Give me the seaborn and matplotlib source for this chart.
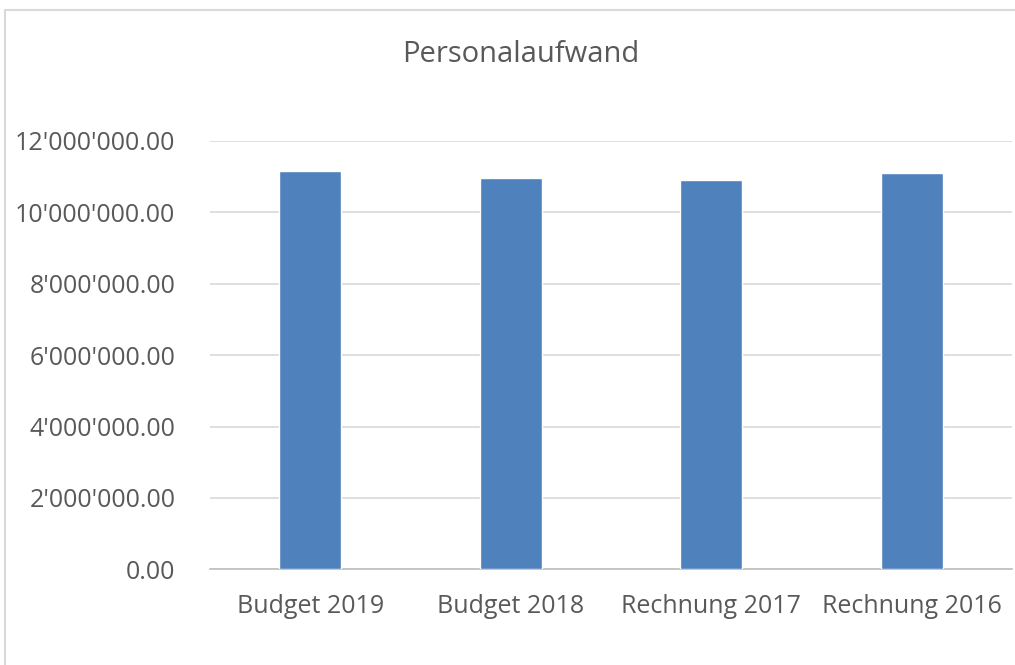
import matplotlib
matplotlib.use("Agg")
import matplotlib.pyplot as plt
import matplotlib.ticker as mticker
from matplotlib.patches import Rectangle
import seaborn as sns
import pandas as pd

categories = ["Budget 2019", "Budget 2018", "Rechnung 2017", "Rechnung 2016"]
values = [11160000, 10950000, 10900000, 11110000]
title = "Personalaufwand"
yticks = [0, 2000000, 4000000, 6000000, 8000000, 10000000, 12000000]

sns.set_theme(style="white")
plt.rcParams["font.family"] = ["Open Sans", "DejaVu Sans"]

df = pd.DataFrame({"Kategorie": categories, "Wert": values})

fig = plt.figure(figsize=(10.15, 6.65), dpi=100)
ax = fig.add_axes([0.207, 0.1439, 0.790, 0.6441])

sns.barplot(data=df, x="Kategorie", y="Wert", color="#4F81BD", width=0.31,
            saturation=1, ax=ax, zorder=3)

ax.set_ylim(0, 12000000)
ax.set_xlim(-0.5, 3.5)
ax.set_yticks(yticks)
ax.yaxis.set_major_formatter(mticker.FuncFormatter(
    lambda v, p: f"{v:,.2f}".replace(",", "'")))
ax.grid(axis="y", color="#d9d9d9", linewidth=1.2, zorder=0)
ax.grid(axis="x", visible=False)
for s in ["top", "right", "left"]:
    ax.spines[s].set_visible(False)
ax.spines["bottom"].set_color("#bfbfbf")
ax.spines["bottom"].set_linewidth(1.2)
ax.tick_params(axis="both", length=0, labelsize=18, labelcolor="#595959")
ax.tick_params(axis="y", pad=25)
ax.tick_params(axis="x", pad=18)
ax.set_xlabel("")
ax.set_ylabel("")

fig.text(0.513, 0.918, title, ha="center", va="center", fontsize=21, color="#595959")

fig.patches.append(Rectangle((0.005, -0.05), 1.2, 1.035, transform=fig.transFigure,
                             fill=False, edgecolor="#d9d9d9", linewidth=1.5))

fig.savefig("out.png", dpi=100)
